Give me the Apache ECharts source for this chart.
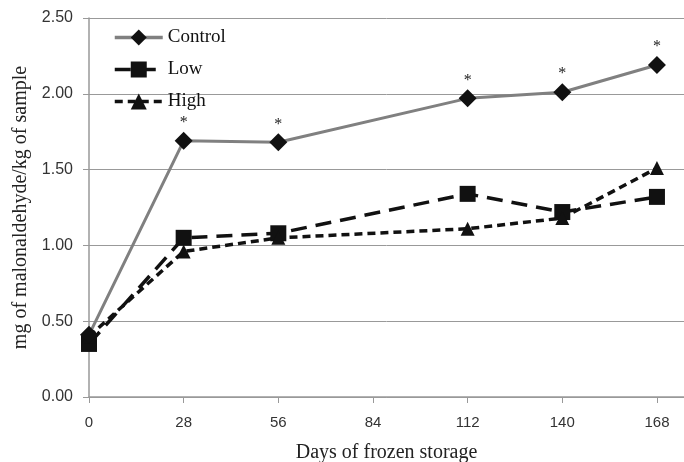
<!DOCTYPE html>
<html><head><meta charset="utf-8">
<script src="https://cdn.jsdelivr.net/npm/echarts@6/dist/echarts.min.js"></script>
<style>html,body{margin:0;padding:0;background:#fff}#c{width:684px;height:462px}</style>
</head><body><div id="c"></div>
<script>
const days = [0, 28, 56, 112, 140, 168];
const control = [0.41, 1.69, 1.68, 1.97, 2.01, 2.19];
const low = [0.35, 1.05, 1.08, 1.34, 1.22, 1.32];
const high = [0.40, 0.96, 1.05, 1.11, 1.18, 1.51];
const significant = [false, true, true, true, true, true];
const xTicks = [0, 28, 56, 84, 112, 140, 168];

const pair = arr => days.map((d, i) => [d, arr[i]]);
const chart = echarts.init(document.getElementById('c'));
chart.setOption({
  animation: false,
  grid: {left: 89, right: 0, top: 18, bottom: 65, containLabel: false, outerBoundsMode: 'none'},
  legend: {
    orient: 'vertical', left: 108, top: 23, itemGap: 13,
    itemWidth: 48, itemHeight: 20,
    lineStyle: {width: 3.5},
    textStyle: {fontFamily: 'Liberation Serif', fontSize: 19, color: '#111'},
    data: ['Control', 'Low', 'High']
  },
  xAxis: {
    type: 'value', min: 0, max: 176, interval: 28,
    name: 'Days of frozen storage', nameLocation: 'middle', nameGap: 46,
    nameTextStyle: {fontFamily: 'Liberation Serif', fontSize: 20, color: '#222'},
    axisLine: {show: true, lineStyle: {color: '#999', width: 1.5}},
    axisTick: {show: true, length: 6, lineStyle: {color: '#999'}},
    splitLine: {show: false},
    axisLabel: {color: '#333', fontFamily: 'Liberation Sans', fontSize: 15, margin: 18,
      showMaxLabel: false,
      formatter: v => xTicks.includes(v) ? String(v) : ''}
  },
  yAxis: {
    type: 'value', min: 0, max: 2.5, interval: 0.5,
    name: 'mg of malonaldehyde/kg of sample', nameLocation: 'middle', nameGap: 56,
    nameTextStyle: {fontFamily: 'Liberation Serif', fontSize: 20, color: '#222'},
    axisLine: {show: true, lineStyle: {color: '#999', width: 1.5}},
    axisTick: {show: true, length: 6, inside: false, lineStyle: {color: '#999'}},
    splitLine: {show: true, lineStyle: {color: '#999', width: 1}},
    axisLabel: {color: '#333', fontFamily: 'Liberation Sans', fontSize: 16, margin: 16,
      formatter: v => v.toFixed(2)}
  },
  series: [
    {
      name: 'Control', type: 'line', data: pair(control),
      symbol: 'diamond', symbolSize: 18,
      lineStyle: {color: '#808080', width: 3},
      itemStyle: {color: '#111'},
      label: {show: true, position: 'top', distance: 1, color: '#222', fontSize: 16,
        fontFamily: 'Liberation Serif',
        formatter: p => significant[p.dataIndex] ? '*' : ''},
      z: 3
    },
    {
      name: 'Low', type: 'line', data: pair(low),
      symbol: 'rect', symbolSize: 16,
      lineStyle: {color: '#111', width: 3.5, type: [16, 9]},
      itemStyle: {color: '#111'},
      z: 2
    },
    {
      name: 'High', type: 'line', data: pair(high),
      symbol: 'triangle', symbolSize: 14,
      lineStyle: {color: '#111', width: 3.5, type: [8, 5]},
      itemStyle: {color: '#111'},
      z: 2
    }
  ]
});
</script></body></html>
